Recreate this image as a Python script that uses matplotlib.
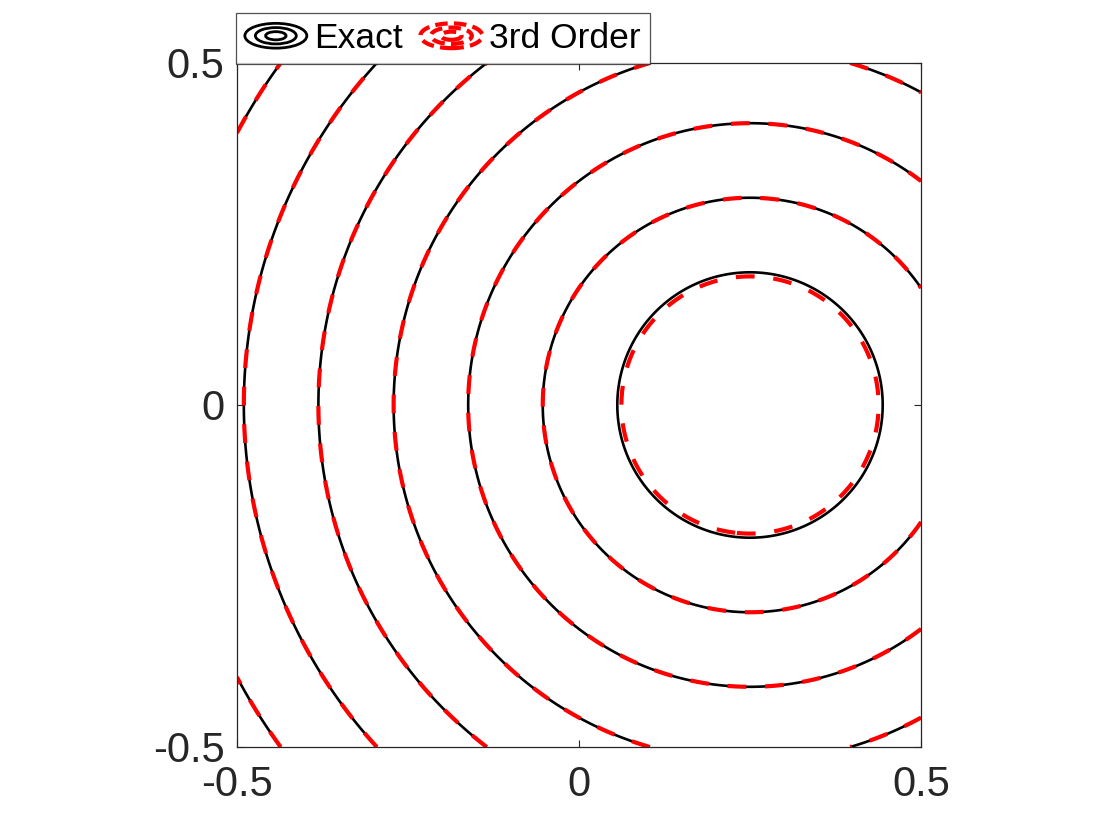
import numpy as np
import matplotlib
matplotlib.use("Agg")
import matplotlib.pyplot as plt
from matplotlib.legend_handler import HandlerBase
from matplotlib.lines import Line2D
from matplotlib.patches import Ellipse

# contour levels (radius about the source point)
center = (0.25, 0.0)
exact_levels = [0.194, 0.303, 0.412, 0.521, 0.631, 0.740, 0.849]
approx_levels = [0.188, 0.303, 0.412, 0.521, 0.631, 0.740, 0.849]
labels = ["Exact", "3rd Order"]
ticks = [-0.5, 0, 0.5]
tick_labels = ["-0.5", "0", "0.5"]

plt.rcParams["font.family"] = ["Liberation Sans", "DejaVu Sans"]
TXT = "#262626"


class ContourHandler(HandlerBase):
    # draws a few concentric ellipses, like the matlab contour legend icon
    def __init__(self, color, lw, ls):
        super().__init__()
        self.color = color
        self.lw = lw
        self.ls = ls

    def create_artists(self, legend, orig_handle, xdescent, ydescent,
                       width, height, fontsize, trans):
        cx = width / 2 - xdescent
        cy = height / 2 - ydescent
        arts = []
        for s in (1.0, 0.66, 0.33):
            e = Ellipse((cx, cy), width * s, height * 1.0 * s,
                        fill=False, edgecolor=self.color, linewidth=self.lw,
                        linestyle=self.ls, transform=trans)
            arts.append(e)
        return arts


x = np.linspace(-0.5, 0.5, 601)
X, Y = np.meshgrid(x, x)
R = np.hypot(X - center[0], Y - center[1])

fig = plt.figure(figsize=(11.2, 8.4), dpi=100)
ax = fig.add_axes([237 / 1120, 1 - 747 / 840, 684 / 1120, 684 / 840])

ax.contour(X, Y, R, levels=exact_levels, colors="k", linewidths=1.9)
ax.contour(X, Y, R, levels=approx_levels, colors="#ff0000", linewidths=3.0,
           linestyles=[(0, (4.5, 4.5))])

ax.set_xlim(-0.5, 0.5)
ax.set_ylim(-0.5, 0.5)
ax.set_aspect("equal")
ax.set_xticks(ticks)
ax.set_xticklabels(tick_labels)
ax.set_yticks(ticks)
ax.set_yticklabels(tick_labels)
ax.tick_params(direction="in", top=True, right=True, length=5, width=0.8,
               colors=TXT, labelsize=30, labelcolor=TXT)
ax.tick_params(axis="x", pad=13)
ax.tick_params(axis="y", pad=9)
for sp in ax.spines.values():
    sp.set_color(TXT)
    sp.set_linewidth(0.9)

h_exact = Line2D([], [], color="k")
h_approx = Line2D([], [], color="r")
leg = fig.legend(
    [h_exact, h_approx], labels,
    handler_map={
        h_exact: ContourHandler("k", 2.0, "-"),
        h_approx: ContourHandler("#ff0000", 3.0, (0, (3.0, 1.5))),
    },
    loc="lower left", bbox_to_anchor=(236 / 1120, 1 - 64 / 840),
    ncol=2, fontsize=25.5, frameon=True, fancybox=False, borderaxespad=0,
    handlelength=1.75, handletextpad=0.2, columnspacing=0.5,
    borderpad=0.25,
)
leg.get_frame().set_edgecolor(TXT)
leg.get_frame().set_linewidth(0.9)

fig.savefig("out.png", dpi=100)
